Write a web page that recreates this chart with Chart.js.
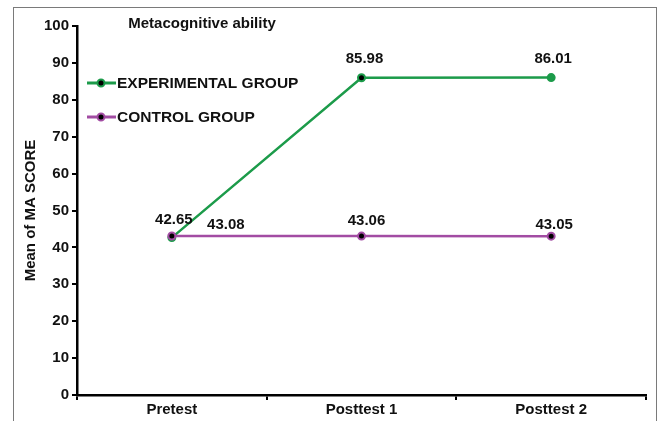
<!DOCTYPE html>
<html>
<head>
<meta charset="utf-8">
<script src="https://cdn.jsdelivr.net/npm/chart.js@4"></script>
<style>
  body { margin: 0; background: #fff; }
  #frame { position: absolute; left: 13px; top: 7px; width: 642px; height: 430px; border: 1px solid #7a7a7a; }
  #wrap { position: absolute; left: 0; top: 0; width: 659px; height: 421px; }
</style>
</head>
<body>
<div id="frame"></div>
<div id="wrap"><canvas id="maChart" width="659" height="421"></canvas></div>
<script>
// data
const categories = ["Pretest", "Posttest 1", "Posttest 2"];
const experimental = [42.65, 85.98, 86.01];
const control = [43.08, 43.06, 43.05];
const yTicks = [0, 10, 20, 30, 40, 50, 60, 70, 80, 90, 100];

const GREEN = "#1c9b4a";
const PURPLE = "#a24ca3";
const FONT = "'Liberation Sans', Arial, sans-serif";

// value labels, offsets in px from each point
const labelOffsets = [
  [[2, -18], [3, -19], [2, -19]], // experimental
  [[54, -11], [5, -15], [3, -11]], // control
];

const extras = {
  id: "extras",
  afterDatasetsDraw(chart) {
    const c = chart.ctx;
    c.save();
    c.fillStyle = "#111";
    c.textAlign = "center";
    c.textBaseline = "middle";

    // title
    c.font = "bold 15px " + FONT;
    c.fillText("Metacognitive ability", 202, 24);

    // data labels
    c.font = "bold 15px " + FONT;
    chart.data.datasets.forEach((ds, i) => {
      const meta = chart.getDatasetMeta(i);
      meta.data.forEach((pt, j) => {
        const off = labelOffsets[i][j];
        c.fillText(ds.data[j].toFixed(2), pt.x + off[0], pt.y + off[1]);
      });
    });

    // legend inside plot
    const area = chart.chartArea;
    c.textAlign = "left";
    c.font = "bold 15.5px " + FONT;
    chart.data.datasets.forEach((ds, i) => {
      const y = area.top + 57 + i * 34;
      const x0 = area.left + 10;
      c.strokeStyle = ds.borderColor;
      c.lineWidth = 3;
      c.beginPath();
      c.moveTo(x0, y);
      c.lineTo(x0 + 29, y);
      c.stroke();
      c.beginPath();
      c.arc(x0 + 14, y, 3.5, 0, Math.PI * 2);
      c.fillStyle = "#000";
      c.fill();
      c.lineWidth = 2;
      c.stroke();
      c.fillStyle = "#111";
      c.fillText(ds.label, x0 + 30, y + 1);
    });
    c.restore();
  },
};

const ctx = document.getElementById("maChart").getContext("2d");
new Chart(ctx, {
  type: "line",
  data: {
    labels: categories,
    datasets: [
      {
        label: "EXPERIMENTAL GROUP",
        data: experimental,
        borderColor: GREEN,
        borderWidth: 2.5,
        pointRadius: 3.5,
        pointBorderWidth: 2,
        pointBorderColor: GREEN,
        pointBackgroundColor: ["#000", "#000", GREEN],
        order: 1,
      },
      {
        label: "CONTROL GROUP",
        data: control,
        borderColor: PURPLE,
        borderWidth: 2.5,
        pointRadius: 3.5,
        pointBorderWidth: 2,
        pointBorderColor: PURPLE,
        pointBackgroundColor: "#000",
        order: 0,
      },
    ],
  },
  options: {
    responsive: false,
    animation: false,
    layout: { padding: { left: 0, right: 13, top: 26, bottom: 0 } },
    plugins: {
      legend: { display: false },
      tooltip: { enabled: false },
    },
    scales: {
      x: {
        offset: true,
        grid: { offset: true, drawOnChartArea: false, tickLength: 5, color: "#000", lineWidth: 2 },
        border: { color: "#000", width: 2.5 },
        ticks: { color: "#111", padding: 1, font: { family: FONT, size: 15, weight: "bold" } },
        afterFit(scale) { scale.height = 26; },
      },
      y: {
        min: 0,
        max: 100,
        afterBuildTicks(scale) { scale.ticks = yTicks.map((v) => ({ value: v })); },
        grid: { drawOnChartArea: false, tickLength: 5, color: "#000", lineWidth: 2 },
        border: { color: "#000", width: 2.5 },
        ticks: { color: "#111", padding: 3, font: { family: FONT, size: 15, weight: "bold" } },
        title: {
          display: true,
          text: "Mean of MA SCORE",
          color: "#111",
          padding: { top: 22, bottom: 0 },
          font: { family: FONT, size: 15, weight: "bold" },
        },
        afterFit(scale) { scale.width = 77; },
      },
    },
  },
  plugins: [extras],
});
</script>
</body>
</html>
